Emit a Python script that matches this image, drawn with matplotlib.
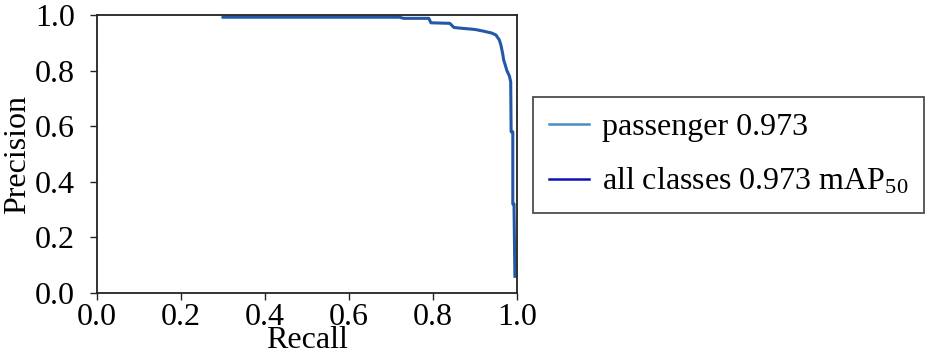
import matplotlib
matplotlib.use("Agg")
import matplotlib.pyplot as plt
from matplotlib.lines import Line2D

plt.rcParams['font.family'] = ['Liberation Serif', 'DejaVu Serif']
plt.rcParams['mathtext.fontset'] = 'custom'
plt.rcParams['mathtext.rm'] = 'Liberation Serif'
plt.rcParams['mathtext.it'] = 'Liberation Serif'

recall = [0.30, 0.72, 0.73, 0.79, 0.795, 0.84, 0.85, 0.87, 0.90, 0.92, 0.94, 0.95,
          0.958, 0.962, 0.966, 0.968, 0.972, 0.976, 0.982, 0.985, 0.986, 0.99,
          0.99, 0.993, 0.993, 0.995]
precision = [0.992, 0.992, 0.988, 0.988, 0.972, 0.970, 0.955, 0.952, 0.948, 0.942,
             0.935, 0.928, 0.91, 0.89, 0.86, 0.84, 0.82, 0.80, 0.78, 0.76, 0.58,
             0.58, 0.32, 0.32, 0.30, 0.06]
class_label = "passenger 0.973"
all_label = "all classes 0.973 mAP$_{\\mathregular{50}}$"
ticks = [0.0, 0.2, 0.4, 0.6, 0.8, 1.0]
tick_labels = ["0.0", "0.2", "0.4", "0.6", "0.8", "1.0"]

FS = 23
fig = plt.figure(figsize=(9.3, 3.55), dpi=100)
ax = fig.add_axes([97/930, 62/355, 420/930, 278/355])
ax.plot(recall, precision, color='#4a8cc0', lw=1.0)
ax.plot(recall, precision, color='#2258a6', lw=2.2)
ax.set_xlim(0, 1)
ax.set_ylim(0, 1)
ax.set_xticks(ticks)
ax.set_xticklabels(tick_labels)
ax.set_yticks(ticks)
ax.set_yticklabels(tick_labels)
ax.tick_params(direction='out', length=5, width=1, labelsize=FS, color='#222222')
ax.tick_params(axis='y', pad=11)
ax.tick_params(axis='x', pad=2)
for s in ax.spines.values():
    s.set_linewidth(1.3)
    s.set_color('#222222')
ax.set_xlabel("Recall", fontsize=FS, labelpad=-4)
ax.set_ylabel("Precision", fontsize=FS, labelpad=2)

handles = [Line2D([], [], color='#4a8cc0', lw=1.8),
           Line2D([], [], color='#0a14b0', lw=1.8)]
leg = fig.legend(handles, [class_label, all_label], loc='upper left',
                 bbox_to_anchor=(533/930, 1 - 97/355), fontsize=FS,
                 frameon=True, fancybox=False, edgecolor='#222222',
                 handlelength=1.25, handletextpad=0.4, borderpad=0.5,
                 labelspacing=0.75, borderaxespad=0)
leg.get_frame().set_linewidth(1.3)
fig.savefig("out.png", dpi=100)
